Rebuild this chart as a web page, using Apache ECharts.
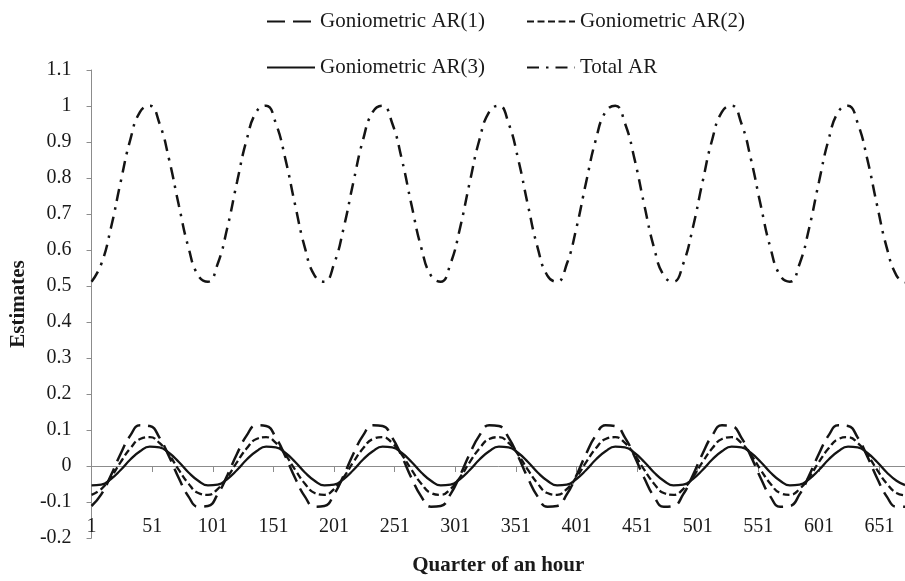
<!DOCTYPE html>
<html><head><meta charset="utf-8">
<script src="https://cdn.jsdelivr.net/npm/echarts@6/dist/echarts.min.js"></script>
<style>html,body{margin:0;padding:0;background:#fff}#c{width:905px;height:581px}</style>
</head><body><div id="c"></div>
<script>
// Category axis: quarter-hour index 1..672 (7 days x 96)
const categories = Array.from({length: 672}, (_, i) => String(i + 1));

const sampleX = [1,9,17,25,33,41,49,57,65,73,81,89,
  97,105,113,121,129,137,145,153,161,169,177,185,
  193,201,209,217,225,233,241,249,257,265,273,281,
  289,297,305,313,321,329,337,345,353,361,369,377,
  385,393,401,409,417,425,433,441,449,457,465,473,
  481,489,497,505,513,521,529,537,545,553,561,569,
  577,585,593,601,609,617,625,633,641,649,657,665,
  672];

const ar1 = [-0.111,-0.079,-0.026,0.034,0.085,0.113,0.111,0.079,0.026,-0.034,-0.085,-0.113,
  -0.111,-0.079,-0.026,0.034,0.085,0.113,0.111,0.079,0.026,-0.034,-0.085,-0.113,
  -0.111,-0.079,-0.026,0.034,0.085,0.113,0.111,0.079,0.026,-0.034,-0.085,-0.113,
  -0.111,-0.079,-0.026,0.034,0.085,0.113,0.111,0.079,0.026,-0.034,-0.085,-0.113,
  -0.111,-0.079,-0.026,0.034,0.085,0.113,0.111,0.079,0.026,-0.034,-0.085,-0.113,
  -0.111,-0.079,-0.026,0.034,0.085,0.113,0.111,0.079,0.026,-0.034,-0.085,-0.113,
  -0.111,-0.079,-0.026,0.034,0.085,0.113,0.111,0.079,0.026,-0.034,-0.085,-0.113,
  -0.113];

const ar2 = [-0.080,-0.064,-0.031,0.011,0.049,0.075,0.080,0.064,0.031,-0.011,-0.049,-0.075,
  -0.080,-0.064,-0.031,0.011,0.049,0.075,0.080,0.064,0.031,-0.011,-0.049,-0.075,
  -0.080,-0.064,-0.031,0.011,0.049,0.075,0.080,0.064,0.031,-0.011,-0.049,-0.075,
  -0.080,-0.064,-0.031,0.011,0.049,0.075,0.080,0.064,0.031,-0.011,-0.049,-0.075,
  -0.080,-0.064,-0.031,0.011,0.049,0.075,0.080,0.064,0.031,-0.011,-0.049,-0.075,
  -0.080,-0.064,-0.031,0.011,0.049,0.075,0.080,0.064,0.031,-0.011,-0.049,-0.075,
  -0.080,-0.064,-0.031,0.011,0.049,0.075,0.080,0.064,0.031,-0.011,-0.049,-0.075,
  -0.081];

const ar3 = [-0.054,-0.052,-0.036,-0.011,0.018,0.041,0.054,0.052,0.036,0.011,-0.018,-0.041,
  -0.054,-0.052,-0.036,-0.011,0.018,0.041,0.054,0.052,0.036,0.011,-0.018,-0.041,
  -0.054,-0.052,-0.036,-0.011,0.018,0.041,0.054,0.052,0.036,0.011,-0.018,-0.041,
  -0.054,-0.052,-0.036,-0.011,0.018,0.041,0.054,0.052,0.036,0.011,-0.018,-0.041,
  -0.054,-0.052,-0.036,-0.011,0.018,0.041,0.054,0.052,0.036,0.011,-0.018,-0.041,
  -0.054,-0.052,-0.036,-0.011,0.018,0.041,0.054,0.052,0.036,0.011,-0.018,-0.041,
  -0.054,-0.052,-0.036,-0.011,0.018,0.041,0.054,0.052,0.036,0.011,-0.018,-0.041,
  -0.053];

const totalAR = [0.512,0.561,0.662,0.789,0.907,0.984,1.001,0.952,0.851,0.724,0.606,0.529,
  0.512,0.561,0.662,0.789,0.907,0.984,1.001,0.952,0.851,0.724,0.606,0.529,
  0.512,0.561,0.662,0.789,0.907,0.984,1.001,0.952,0.851,0.724,0.606,0.529,
  0.512,0.561,0.662,0.789,0.907,0.984,1.001,0.952,0.851,0.724,0.606,0.529,
  0.512,0.561,0.662,0.789,0.907,0.984,1.001,0.952,0.851,0.724,0.606,0.529,
  0.512,0.561,0.662,0.789,0.907,0.984,1.001,0.952,0.851,0.724,0.606,0.529,
  0.512,0.561,0.662,0.789,0.907,0.984,1.001,0.952,0.851,0.724,0.606,0.529,
  0.510];

const seriesNames = ['Goniometric AR(1)', 'Goniometric AR(2)', 'Goniometric AR(3)', 'Total AR'];
const yTitle = 'Estimates';
const xTitle = 'Quarter of an hour';

const FONT = 'Liberation Serif';
const TXT = '#1a1a1a';
const LINE = '#141414';
const AXIS = '#8c8c8c';

function pairs(vals) { return sampleX.map((x, i) => [x - 1, vals[i]]); }

const chart = echarts.init(document.getElementById('c'), null, {renderer: 'canvas'});

const legendBase = {
  orient: 'horizontal', padding: 0, itemWidth: 48, itemHeight: 20, itemGap: 0,
  selectedMode: false,
  itemStyle: {opacity: 0},
  textStyle: {fontFamily: FONT, fontSize: 21, color: TXT}
};

const option = {
  animation: false,
  backgroundColor: '#ffffff',
  legend: [
    Object.assign({}, legendBase, {data: [seriesNames[0]], left: 266, top: 11}),
    Object.assign({}, legendBase, {data: [seriesNames[1]], left: 526, top: 11}),
    Object.assign({}, legendBase, {data: [seriesNames[2]], left: 266, top: 57}),
    Object.assign({}, legendBase, {data: [seriesNames[3]], left: 526, top: 57})
  ],
  grid: {left: 86, right: -10, top: 70, bottom: 35.5, containLabel: false},
  xAxis: [
    {
      type: 'category', data: categories, boundaryGap: false,
      axisLine: {onZero: true, lineStyle: {color: AXIS, width: 1}},
      axisTick: {show: true, interval: 49, length: 6, lineStyle: {color: AXIS}},
      axisLabel: {show: false},
      splitLine: {show: false}
    },
    {
      type: 'category', data: categories, boundaryGap: false, position: 'bottom', offset: -23,
      axisLine: {show: false}, axisTick: {show: false},
      axisLabel: {show: true, interval: 49, margin: 2, fontFamily: FONT, fontSize: 20, color: TXT},
      splitLine: {show: false},
      name: xTitle, nameLocation: 'middle', nameGap: 40,
      nameTextStyle: {fontFamily: FONT, fontSize: 21, fontWeight: 'bold', color: TXT}
    }
  ],
  yAxis: {
    type: 'value', min: -0.2, max: 1.1, interval: 0.1,
    axisLine: {show: true, onZero: false, lineStyle: {color: AXIS, width: 1}},
    axisTick: {show: true, length: 5, lineStyle: {color: AXIS}},
    axisLabel: {margin: 20, fontFamily: FONT, fontSize: 20, color: TXT,
      formatter: v => String(Math.round(v * 10) / 10)},
    splitLine: {show: false},
    name: yTitle, nameLocation: 'middle', nameGap: 59,
    nameTextStyle: {fontFamily: FONT, fontSize: 21, fontWeight: 'bold', color: TXT}
  },
  series: [
    {name: seriesNames[0], type: 'line', xAxisIndex: 0, data: pairs(ar1), symbol: 'none', smooth: true,
      lineStyle: {color: LINE, width: 2.5, type: [18, 8]}, itemStyle: {color: LINE}},
    {name: seriesNames[1], type: 'line', xAxisIndex: 0, data: pairs(ar2), symbol: 'none', smooth: true,
      lineStyle: {color: LINE, width: 2.3, type: [7, 3.5]}, itemStyle: {color: LINE}},
    {name: seriesNames[2], type: 'line', xAxisIndex: 0, data: pairs(ar3), symbol: 'none', smooth: true,
      lineStyle: {color: LINE, width: 2.3, type: 'solid'}, itemStyle: {color: LINE}},
    {name: seriesNames[3], type: 'line', xAxisIndex: 0, data: pairs(totalAR), symbol: 'none', smooth: true,
      lineStyle: {color: LINE, width: 2.5, type: [12, 7, 2.5, 7]}, itemStyle: {color: LINE}}
  ]
};
chart.setOption(option);
</script></body></html>
